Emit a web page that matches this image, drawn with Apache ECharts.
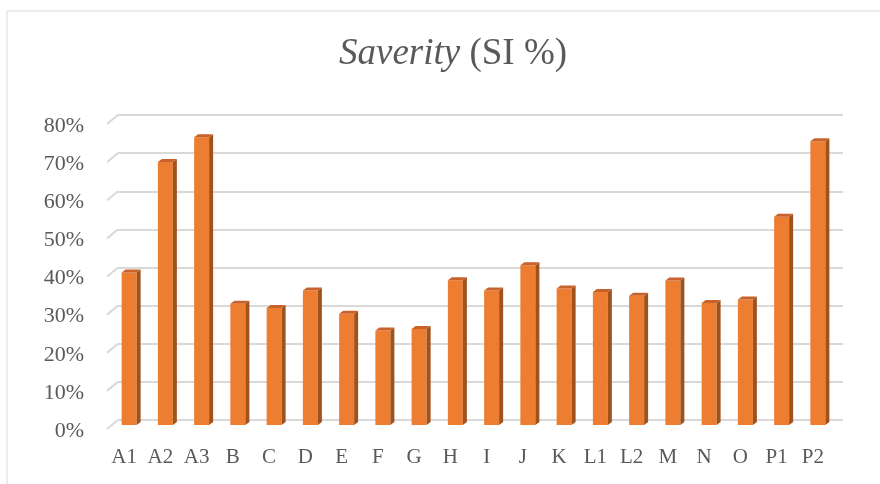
<!DOCTYPE html>
<html>
<head>
<meta charset="utf-8">
<script src="https://cdn.jsdelivr.net/npm/echarts@6/dist/echarts.min.js"></script>
<style>
	html, body { margin: 0; padding: 0; background: #fff; }
	#chart { width: 880px; height: 484px; }
</style>
</head>
<body>
<div id="chart"></div>
<script>
	// 数据
	var categories = ['A1', 'A2', 'A3', 'B', 'C', 'D', 'E', 'F', 'G', 'H', 'I', 'J', 'K', 'L1', 'L2', 'M', 'N', 'O', 'P1', 'P2'];
	var severity = [0.40, 0.69, 0.755, 0.318, 0.307, 0.353, 0.292, 0.248, 0.252, 0.38, 0.353, 0.419, 0.358, 0.349, 0.339, 0.379, 0.32, 0.329, 0.546, 0.744];
	var yTicks = [0, 0.1, 0.2, 0.3, 0.4, 0.5, 0.6, 0.7, 0.8];

	// 3D 效果的偏移
	var BW = 15;          // 柱子正面宽度
	var DX = -7, DY = 5;  // 柱子相对背墙的偏移
	var SX = 4, SY = 3;   // 侧面/顶面深度
	var WX = -11, WY = 9; // 左侧墙斜线

	function renderBar(params, api) {
		var base = api.coord([api.value(0), 0]);
		var top = api.coord([api.value(0), api.value(1)]);
		var x0 = base[0] + DX - BW / 2, x1 = x0 + BW;
		var yb = base[1] + DY, yt = top[1] + DY;
		return {
			type: 'group',
			children: [
				{ type: 'rect', shape: { x: x0, y: yt, width: BW, height: yb - yt }, style: { fill: '#ED7D31' } },
				{ type: 'polygon', shape: { points: [[x1, yt], [x1 + SX, yt - SY], [x1 + SX, yb - SY], [x1, yb]] }, style: { fill: '#A0521D' } },
				{ type: 'polygon', shape: { points: [[x0, yt], [x0 + SX, yt - SY], [x1 + SX, yt - SY], [x1, yt]] }, style: { fill: '#C8622A' } }
			]
		};
	}

	function renderWall(params, api) {
		var p = api.coord([0, api.value(1)]);
		var left = p[0] - api.size([1, 0])[0] / 2;
		return {
			type: 'line',
			shape: { x1: left, y1: p[1], x2: left + WX, y2: p[1] + WY },
			style: { stroke: '#D9D9D9', lineWidth: 2 }
		};
	}

	var chart = echarts.init(document.getElementById('chart'));
	var option = {
		animation: false,
		textStyle: { fontFamily: 'Liberation Serif' },
		graphic: [
			{ type: 'rect', shape: { x: 7, y: 11, width: 900, height: 500 }, style: { fill: 'none', stroke: '#D9D9D9', lineWidth: 1 }, silent: true }
		],
		title: {
			text: '{i|Saverity} (SI %)',
			left: 334,
			top: 31,
			textStyle: {
				fontFamily: 'Liberation Serif',
				fontSize: 37,
				fontWeight: 'normal',
				color: '#595959',
				rich: {
					i: { fontFamily: 'Liberation Serif', fontSize: 37, fontStyle: 'italic', color: '#595959' }
				}
			}
		},
		grid: { left: 118, right: 37, top: 115, bottom: 64 },
		xAxis: {
			type: 'category',
			data: categories,
			axisLine: { show: false },
			axisTick: { show: false },
			axisLabel: {
				color: '#595959',
				fontSize: 21,
				fontFamily: 'Liberation Serif',
				margin: 27,
				padding: [0, 24, 0, 0]
			}
		},
		yAxis: {
			type: 'value',
			min: 0,
			max: 0.8,
			interval: 0.1,
			axisLine: { show: false },
			axisTick: { show: false },
			splitLine: { lineStyle: { color: '#D9D9D9', width: 2 } },
			axisLabel: {
				color: '#595959',
				fontSize: 22,
				fontFamily: 'Liberation Serif',
				margin: 34,
				verticalAlign: 'top',
				formatter: function (v) { return Math.round(v * 100) + '%'; }
			}
		},
		series: [
			{
				type: 'custom',
				renderItem: renderWall,
				data: yTicks.map(function (v) { return [0, v]; }),
				encode: { x: 0, y: 1 },
				silent: true,
				z: 1
			},
			{
				type: 'custom',
				renderItem: renderBar,
				data: severity.map(function (v, i) { return [i, v]; }),
				encode: { x: 0, y: 1 },
				z: 3
			}
		]
	};
	chart.setOption(option);
</script>
</body>
</html>
